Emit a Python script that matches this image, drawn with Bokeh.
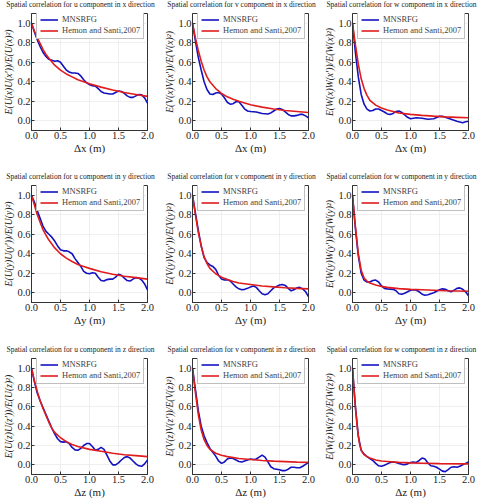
from bokeh.plotting import figure
from bokeh.layouts import row, column
from bokeh.models import Legend, LegendItem, FixedTicker, NumeralTickFormatter, Range1d
from bokeh.core.properties import value
from bokeh.embed import file_html
from bokeh.resources import INLINE

# ---------------- data ----------------
# Row 1: x direction
ux_bx = [0, 0.05, 0.1, 0.15, 0.2, 0.25, 0.3, 0.35, 0.4, 0.45, 0.5, 0.55, 0.6, 0.65, 0.7, 0.75, 0.8, 0.85, 0.9, 0.95, 1.0, 1.05, 1.1, 1.15, 1.2, 1.25, 1.3, 1.35, 1.4, 1.45, 1.5, 1.55, 1.6, 1.65, 1.7, 1.75, 1.8, 1.85, 1.9, 1.95, 2.0]
ux_by = [1.0, 0.91, 0.83, 0.76, 0.70, 0.66, 0.63, 0.62, 0.61, 0.615, 0.60, 0.56, 0.52, 0.50, 0.49, 0.49, 0.485, 0.46, 0.42, 0.39, 0.37, 0.36, 0.355, 0.33, 0.30, 0.285, 0.28, 0.275, 0.275, 0.29, 0.305, 0.30, 0.28, 0.255, 0.24, 0.24, 0.255, 0.27, 0.265, 0.235, 0.18]
ux_rx = [0, 0.05, 0.1, 0.15, 0.2, 0.25, 0.3, 0.4, 0.5, 0.6, 0.7, 0.8, 0.9, 1.0, 1.2, 1.4, 1.6, 1.8, 2.0]
ux_ry = [1.0, 0.92, 0.85, 0.79, 0.73, 0.68, 0.64, 0.57, 0.52, 0.48, 0.45, 0.42, 0.40, 0.38, 0.345, 0.315, 0.29, 0.27, 0.25]

vx_bx = [0, 0.05, 0.1, 0.15, 0.2, 0.25, 0.3, 0.35, 0.4, 0.45, 0.5, 0.55, 0.6, 0.65, 0.7, 0.75, 0.8, 0.85, 0.9, 0.95, 1.0, 1.1, 1.2, 1.3, 1.35, 1.4, 1.45, 1.5, 1.55, 1.6, 1.65, 1.7, 1.75, 1.8, 1.85, 1.9, 1.95, 2.0]
vx_by = [1.0, 0.82, 0.65, 0.52, 0.40, 0.32, 0.275, 0.27, 0.285, 0.29, 0.275, 0.235, 0.19, 0.17, 0.175, 0.195, 0.195, 0.16, 0.12, 0.10, 0.095, 0.09, 0.075, 0.07, 0.08, 0.10, 0.12, 0.125, 0.115, 0.09, 0.065, 0.05, 0.05, 0.055, 0.065, 0.065, 0.05, 0.03]
vx_rx = [0, 0.05, 0.1, 0.15, 0.2, 0.25, 0.3, 0.4, 0.5, 0.6, 0.7, 0.8, 1.0, 1.2, 1.4, 1.6, 1.8, 2.0]
vx_ry = [1.0, 0.85, 0.72, 0.61, 0.52, 0.45, 0.40, 0.33, 0.28, 0.245, 0.22, 0.20, 0.165, 0.14, 0.12, 0.105, 0.095, 0.085]

wx_bx = [0, 0.05, 0.1, 0.15, 0.2, 0.25, 0.3, 0.35, 0.4, 0.45, 0.5, 0.55, 0.6, 0.65, 0.7, 0.75, 0.8, 0.85, 0.9, 0.95, 1.0, 1.1, 1.2, 1.3, 1.4, 1.5, 1.55, 1.6, 1.7, 1.8, 1.9, 1.95, 2.0]
wx_by = [1.0, 0.70, 0.45, 0.27, 0.17, 0.12, 0.10, 0.105, 0.12, 0.12, 0.105, 0.09, 0.07, 0.065, 0.075, 0.095, 0.10, 0.085, 0.06, 0.035, 0.02, 0.03, 0.025, 0.015, 0.02, 0.045, 0.045, 0.035, 0.015, -0.005, -0.02, -0.01, -0.005]
wx_rx = [0, 0.05, 0.1, 0.15, 0.2, 0.25, 0.3, 0.4, 0.5, 0.6, 0.8, 1.0, 1.2, 1.4, 1.6, 1.8, 2.0]
wx_ry = [1.0, 0.78, 0.58, 0.43, 0.33, 0.26, 0.21, 0.16, 0.13, 0.11, 0.08, 0.065, 0.055, 0.047, 0.04, 0.035, 0.03]

# Row 2: y direction
uy_bx = [0, 0.05, 0.1, 0.15, 0.2, 0.25, 0.3, 0.35, 0.4, 0.45, 0.5, 0.55, 0.6, 0.65, 0.7, 0.75, 0.8, 0.85, 0.9, 0.95, 1.0, 1.05, 1.1, 1.15, 1.2, 1.25, 1.3, 1.35, 1.4, 1.45, 1.5, 1.55, 1.6, 1.65, 1.7, 1.75, 1.8, 1.85, 1.9, 1.95, 2.0]
uy_by = [1.0, 0.93, 0.84, 0.76, 0.68, 0.63, 0.60, 0.57, 0.53, 0.48, 0.44, 0.43, 0.43, 0.42, 0.40, 0.35, 0.31, 0.27, 0.22, 0.20, 0.195, 0.205, 0.20, 0.16, 0.125, 0.12, 0.135, 0.14, 0.14, 0.16, 0.19, 0.18, 0.15, 0.125, 0.12, 0.14, 0.155, 0.15, 0.13, 0.09, 0.03]
uy_rx = [0, 0.05, 0.1, 0.15, 0.2, 0.25, 0.3, 0.4, 0.5, 0.6, 0.7, 0.8, 0.9, 1.0, 1.2, 1.4, 1.6, 1.8, 2.0]
uy_ry = [1.0, 0.90, 0.80, 0.72, 0.645, 0.59, 0.54, 0.46, 0.40, 0.355, 0.32, 0.29, 0.27, 0.25, 0.215, 0.19, 0.17, 0.155, 0.14]

vy_bx = [0, 0.05, 0.1, 0.15, 0.2, 0.25, 0.3, 0.35, 0.4, 0.45, 0.5, 0.55, 0.6, 0.65, 0.7, 0.75, 0.8, 0.85, 0.9, 0.95, 1.0, 1.05, 1.1, 1.15, 1.2, 1.25, 1.3, 1.35, 1.4, 1.5, 1.55, 1.6, 1.65, 1.7, 1.75, 1.8, 1.85, 1.9, 1.95, 2.0]
vy_by = [1.0, 0.82, 0.64, 0.48, 0.36, 0.31, 0.285, 0.27, 0.24, 0.18, 0.14, 0.13, 0.135, 0.12, 0.09, 0.06, 0.04, 0.03, 0.035, 0.045, 0.06, 0.07, 0.055, 0.02, -0.01, -0.02, -0.01, 0.02, 0.05, 0.08, 0.085, 0.075, 0.045, 0.02, 0.03, 0.05, 0.055, 0.04, 0.01, -0.04]
vy_rx = [0, 0.05, 0.1, 0.15, 0.2, 0.25, 0.3, 0.4, 0.5, 0.6, 0.7, 0.8, 1.0, 1.2, 1.4, 1.6, 1.8, 2.0]
vy_ry = [1.0, 0.80, 0.62, 0.48, 0.37, 0.30, 0.25, 0.195, 0.16, 0.135, 0.115, 0.10, 0.085, 0.07, 0.06, 0.052, 0.045, 0.04]

wy_bx = [0, 0.05, 0.1, 0.15, 0.2, 0.25, 0.3, 0.35, 0.4, 0.45, 0.5, 0.55, 0.6, 0.7, 0.75, 0.8, 0.85, 0.9, 0.95, 1.0, 1.05, 1.1, 1.15, 1.2, 1.25, 1.3, 1.4, 1.5, 1.55, 1.6, 1.65, 1.7, 1.75, 1.8, 1.85, 1.9, 1.95, 2.0]
wy_by = [1.0, 0.66, 0.38, 0.20, 0.13, 0.11, 0.11, 0.125, 0.13, 0.11, 0.07, 0.045, 0.04, 0.035, 0.02, -0.01, -0.015, -0.005, 0.01, 0.025, 0.03, 0.025, 0.01, -0.015, -0.025, -0.02, 0.0, 0.03, 0.04, 0.035, 0.02, 0.01, 0.025, 0.045, 0.05, 0.035, 0.01, -0.03]
wy_rx = [0, 0.05, 0.1, 0.15, 0.2, 0.25, 0.3, 0.4, 0.5, 0.6, 0.8, 1.0, 1.2, 1.4, 1.6, 1.8, 2.0]
wy_ry = [1.0, 0.68, 0.40, 0.23, 0.15, 0.12, 0.10, 0.08, 0.065, 0.055, 0.042, 0.035, 0.03, 0.025, 0.02, 0.018, 0.015]

# Row 3: z direction
uz_bx = [0, 0.05, 0.1, 0.15, 0.2, 0.25, 0.3, 0.35, 0.4, 0.45, 0.5, 0.55, 0.6, 0.65, 0.7, 0.75, 0.8, 0.85, 0.9, 0.95, 1.0, 1.05, 1.1, 1.15, 1.2, 1.25, 1.3, 1.35, 1.4, 1.45, 1.5, 1.55, 1.6, 1.65, 1.7, 1.75, 1.8, 1.85, 1.9, 1.95, 2.0]
uz_by = [1.0, 0.86, 0.74, 0.66, 0.59, 0.52, 0.45, 0.38, 0.32, 0.27, 0.24, 0.235, 0.24, 0.22, 0.18, 0.155, 0.15, 0.17, 0.20, 0.22, 0.22, 0.19, 0.15, 0.16, 0.18, 0.16, 0.10, 0.04, 0.0, 0.0, 0.02, 0.05, 0.075, 0.085, 0.07, 0.04, 0.01, -0.01, -0.015, 0.01, 0.05]
uz_rx = [0, 0.05, 0.1, 0.15, 0.2, 0.25, 0.3, 0.35, 0.4, 0.5, 0.6, 0.7, 0.8, 1.0, 1.2, 1.4, 1.6, 1.8, 2.0]
uz_ry = [1.0, 0.87, 0.76, 0.66, 0.58, 0.51, 0.44, 0.38, 0.335, 0.28, 0.24, 0.21, 0.19, 0.16, 0.14, 0.12, 0.105, 0.095, 0.085]

vz_bx = [0, 0.05, 0.1, 0.15, 0.2, 0.25, 0.3, 0.35, 0.4, 0.45, 0.5, 0.55, 0.6, 0.65, 0.7, 0.75, 0.8, 0.85, 0.9, 0.95, 1.0, 1.05, 1.1, 1.15, 1.2, 1.25, 1.3, 1.35, 1.4, 1.5, 1.55, 1.6, 1.65, 1.7, 1.75, 1.8, 1.85, 1.9, 1.95, 2.0]
vz_by = [1.0, 0.78, 0.56, 0.40, 0.30, 0.23, 0.17, 0.13, 0.09, 0.04, 0.015, 0.03, 0.06, 0.07, 0.065, 0.05, 0.035, 0.03, 0.04, 0.05, 0.06, 0.055, 0.06, 0.08, 0.10, 0.08, 0.03, -0.02, -0.04, -0.05, -0.06, -0.06, -0.045, -0.025, -0.025, -0.03, -0.03, -0.015, 0.005, 0.025]
vz_rx = [0, 0.05, 0.1, 0.15, 0.2, 0.25, 0.3, 0.4, 0.5, 0.6, 0.8, 1.0, 1.2, 1.4, 1.6, 1.8, 2.0]
vz_ry = [1.0, 0.75, 0.52, 0.36, 0.26, 0.20, 0.16, 0.12, 0.10, 0.085, 0.065, 0.055, 0.045, 0.038, 0.033, 0.028, 0.025]

wz_bx = [0, 0.05, 0.1, 0.15, 0.2, 0.25, 0.3, 0.35, 0.4, 0.45, 0.5, 0.55, 0.6, 0.65, 0.7, 0.75, 0.8, 0.85, 0.9, 0.95, 1.0, 1.05, 1.1, 1.15, 1.2, 1.25, 1.3, 1.35, 1.4, 1.45, 1.5, 1.55, 1.6, 1.65, 1.7, 1.75, 1.8, 1.85, 1.9, 1.95, 2.0]
wz_by = [1.0, 0.60, 0.30, 0.15, 0.11, 0.085, 0.065, 0.045, 0.015, -0.01, -0.015, -0.005, 0.01, 0.025, 0.03, 0.025, 0.015, 0.005, 0.0, 0.01, 0.025, 0.03, 0.025, 0.045, 0.07, 0.06, 0.02, -0.01, -0.015, -0.025, -0.045, -0.065, -0.07, -0.05, -0.025, -0.02, -0.025, -0.015, 0.0, 0.015, 0.03]
wz_rx = [0, 0.03, 0.05, 0.08, 0.1, 0.12, 0.15, 0.2, 0.25, 0.3, 0.4, 0.5, 0.6, 0.8, 1.0, 1.2, 1.5, 2.0]
wz_ry = [1.0, 0.75, 0.60, 0.40, 0.30, 0.22, 0.15, 0.105, 0.085, 0.07, 0.05, 0.04, 0.035, 0.025, 0.02, 0.017, 0.013, 0.01]

components = ["u", "v", "w"]
directions = ["x", "y", "z"]
comp_letters = ["U", "V", "W"]
series_names = ["MNSRFG", "Hemon and Santi,2007"]
x_ticks = [0.0, 0.5, 1.0, 1.5, 2.0]
y_ticks = [0.0, 0.2, 0.4, 0.6, 0.8, 1.0]

curves = {
    ("u", "x"): (ux_bx, ux_by, ux_rx, ux_ry),
    ("v", "x"): (vx_bx, vx_by, vx_rx, vx_ry),
    ("w", "x"): (wx_bx, wx_by, wx_rx, wx_ry),
    ("u", "y"): (uy_bx, uy_by, uy_rx, uy_ry),
    ("v", "y"): (vy_bx, vy_by, vy_rx, vy_ry),
    ("w", "y"): (wy_bx, wy_by, wy_rx, wy_ry),
    ("u", "z"): (uz_bx, uz_by, uz_rx, uz_ry),
    ("v", "z"): (vz_bx, vz_by, vz_rx, vz_ry),
    ("w", "z"): (wz_bx, wz_by, wz_rx, wz_ry),
}

# ---------------- layout ----------------
FONT = "Liberation Serif"
BLUE = "#1212c0"
RED = "#e01c1c"
TOTAL_W = 479
col_w = [161, 160, 158]
col_rb = [14, 13, 11]
LB = 27
TH = 13                      # height of the title strip above each row
panel_h = [159, 160, 142]
frame_hs = [117, 117, 116]
title_x = [80, 241, 401]

blocks = []
for r, d in enumerate(directions):
    # title strip for this row
    ts = figure(width=TOTAL_W, height=TH, output_backend="svg", toolbar_location=None,
                x_range=Range1d(0, TOTAL_W), y_range=Range1d(0, TH),
                x_axis_type=None, y_axis_type=None,
                min_border_left=0, min_border_right=0, min_border_top=0, min_border_bottom=0)
    ts.outline_line_color = None
    ts.xgrid.visible = False
    ts.ygrid.visible = False
    for c, comp in enumerate(components):
        ts.text(x=[title_x[c]], y=[TH - 4],
                text=[f"Spatial correlation for {comp} component in {d} direction"],
                text_font=value(FONT), text_font_size=value("7.5px"),
                text_align="center", text_baseline="middle", text_color="#222222")
    blocks.append(ts)

    figs = []
    for c, comp in enumerate(components):
        bx, by, rx, ry = curves[(comp, d)]
        L = comp_letters[c]
        fh = frame_hs[r]
        p = figure(width=col_w[c], height=panel_h[r], output_backend="svg",
                   toolbar_location=None, x_range=Range1d(0, 2), y_range=Range1d(-0.1, 1.1),
                   min_border_left=LB, min_border_right=col_rb[c],
                   min_border_top=0, min_border_bottom=panel_h[r] - fh)

        lb = p.line(bx, by, line_color=BLUE, line_width=1.6)
        lr = p.line(rx, ry, line_color=RED, line_width=1.6)

        p.xaxis.axis_label = f"Δ{d} (m)"
        p.yaxis.axis_label = f"E({L}({d}){L}({d}′))/E({L}({d})²)"
        for ax in (p.xaxis[0], p.yaxis[0]):
            ax.axis_label_text_font = FONT
            ax.axis_label_text_font_style = "normal"
            ax.major_label_text_font = FONT
            ax.major_label_text_font_size = "10.5px"
            ax.major_label_text_color = "#222222"
            ax.axis_label_text_color = "#222222"
            ax.major_tick_in = 3
            ax.major_tick_out = 0
            ax.minor_tick_in = 0
            ax.minor_tick_out = 0
            ax.major_label_standoff = 1
            ax.axis_label_standoff = 0
            ax.axis_line_color = "#333333"
            ax.major_tick_line_color = "#333333"
        p.xaxis.axis_label_text_font_size = "11px"
        p.yaxis.axis_label_text_font_size = "9.6px"
        p.yaxis.axis_label_text_font_style = "italic"
        p.xaxis.ticker = FixedTicker(ticks=x_ticks)
        p.yaxis.ticker = FixedTicker(ticks=y_ticks)
        p.xaxis.formatter = NumeralTickFormatter(format="0.0")
        p.yaxis.formatter = NumeralTickFormatter(format="0.0")
        p.xgrid.ticker = FixedTicker(ticks=x_ticks)
        p.ygrid.ticker = FixedTicker(ticks=y_ticks)
        p.xgrid.grid_line_color = "#e4e4e4"
        p.ygrid.grid_line_color = "#e4e4e4"
        p.xgrid.grid_line_width = 0.6
        p.ygrid.grid_line_width = 0.6
        p.outline_line_color = "#333333"
        p.outline_line_width = 1
        p.background_fill_color = "white"

        leg = Legend(items=[LegendItem(label=series_names[0], renderers=[lb]),
                            LegendItem(label=series_names[1], renderers=[lr])],
                     location=(5, fh - 26), margin=0)
        leg.label_text_font = FONT
        leg.label_text_font_size = "8.5px"
        leg.label_height = 9
        leg.glyph_height = 9
        leg.glyph_width = 18
        leg.label_standoff = 4
        leg.spacing = 1
        leg.padding = 3
        leg.border_line_color = "#808080"
        leg.border_line_width = 1
        leg.background_fill_alpha = 1.0
        p.add_layout(leg, "center")
        figs.append(p)
    blocks.append(row(figs))

layout = column(blocks)
open("out.html", "w").write(file_html(layout, INLINE))
